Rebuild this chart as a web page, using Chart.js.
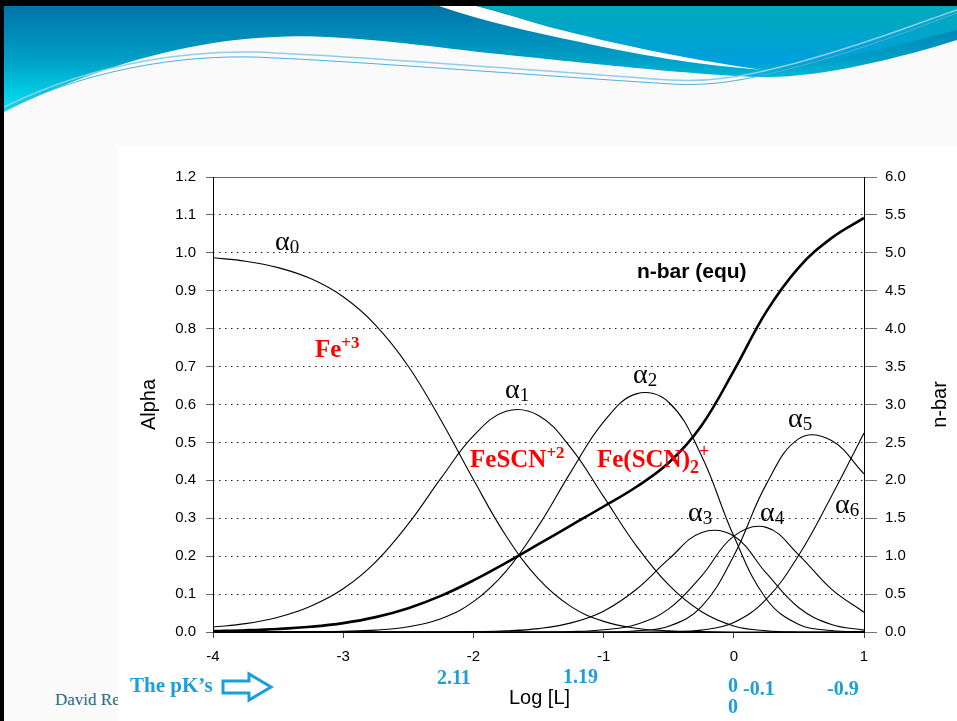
<!DOCTYPE html>
<html><head><meta charset="utf-8">
<script src="https://cdn.jsdelivr.net/npm/chart.js@4.4.0/dist/chart.umd.min.js"></script>
<style>
html,body{margin:0;padding:0;background:#fafafa;}
#wrap{position:relative;width:957px;height:721px;overflow:hidden;}
#bg,#c{position:absolute;left:0;top:0;}
</style></head><body>
<div id="wrap">
<svg id="bg" width="957" height="721" xmlns="http://www.w3.org/2000/svg">
  <defs>
    <linearGradient id="gL" x1="0" y1="6" x2="0" y2="112" gradientUnits="userSpaceOnUse">
      <stop offset="0" stop-color="#0074a9"/>
      <stop offset="0.5" stop-color="#009fc6"/>
      <stop offset="1" stop-color="#00e6f2"/>
    </linearGradient>
    <linearGradient id="gR" x1="0" y1="6" x2="0" y2="66" gradientUnits="userSpaceOnUse">
      <stop offset="0" stop-color="#00aab9"/>
      <stop offset="1" stop-color="#009fe0"/>
    </linearGradient>
  </defs>
  <rect x="0" y="0" width="957" height="721" fill="#fafafa"/>
  <path d="M4,6 H957 V40 C900,58 820,78 763,77 C700,76 560,60 488,53 C420,45 330,33 275,37 C200,40 110,60 4,112 Z" fill="url(#gL)"/>
  <path d="M476,6 H957 V30 C900,45 850,58 800,62 C770,65 750,67 732,66 C680,58 620,45 549,27 C520,18 495,10 476,6 Z" fill="url(#gR)"/>
  <path d="M439,6 H476 C500,12 525,20 549,27 C620,45 680,58 763,70 C690,64 640,55 580,42 C530,32 480,20 439,6 Z" fill="#ffffff"/>
  <path d="M4,107 C100,60 200,48 275,53 C350,56 560,72 671,80 C710,82 740,78 800,62 C880,40 920,22 957,10" stroke="#8fcde9" stroke-width="1.5" fill="none"/>
  <path d="M4,110 C100,64 200,53 275,58 C350,61 560,77 671,84 C710,86 740,82 800,66 C880,44 920,26 957,13" stroke="#4fb0dc" stroke-width="1" fill="none"/>
  <text x="55" y="705" font-family="Liberation Serif, Times New Roman, serif" font-size="17" fill="#1f6a80">David Reckhow</text>
  <rect x="118" y="147" width="839" height="574" fill="#ffffff"/>
  <rect x="0" y="0" width="957" height="6" fill="#000"/>
  <rect x="0" y="0" width="4" height="721" fill="#000"/>
</svg>
<canvas id="c" width="957" height="721"></canvas>
</div>
<script>
// ---- data ----
const xValues = [-4,-3.75,-3.5,-3.25,-3,-2.75,-2.5,-2.25,-2,-1.75,-1.5,-1.25,-1,-0.75,-0.5,-0.25,0,0.25,0.5,0.75,1];
const alpha0 = [0.987,0.978,0.961,0.932,0.884,0.809,0.701,0.559,0.402,0.254,0.140,0.067,0.028,0.010,0.003,0.001,0,0,0,0,0];
const alpha1 = [0.013,0.022,0.039,0.068,0.114,0.185,0.285,0.405,0.517,0.582,0.571,0.485,0.357,0.228,0.124,0.054,0.016,0.003,0,0,0];
const alpha2 = [0,0,0,0.001,0.002,0.005,0.014,0.035,0.080,0.160,0.280,0.423,0.554,0.628,0.606,0.466,0.253,0.087,0.020,0.004,0.001];
const alpha3 = [0,0,0,0,0,0,0,0,0.001,0.003,0.009,0.024,0.055,0.112,0.192,0.262,0.253,0.155,0.064,0.020,0.005];
const alpha4 = [0,0,0,0,0,0,0,0,0,0,0,0.001,0.006,0.020,0.061,0.147,0.253,0.276,0.203,0.113,0.052];
const alpha5 = [0,0,0,0,0,0,0,0,0,0,0,0,0,0.003,0.015,0.066,0.201,0.390,0.510,0.505,0.417];
const alpha6 = [0,0,0,0,0,0,0,0,0,0,0,0,0,0,0.001,0.005,0.025,0.087,0.203,0.358,0.525];
const nBar   = [0.013,0.023,0.040,0.069,0.117,0.196,0.314,0.476,0.680,0.912,1.158,1.407,1.655,1.912,2.231,2.718,3.444,4.225,4.809,5.194,5.460];
const pKLabels = ['2.11','1.19','0','0','-0.1','-0.9'];
const xTitle = 'Log [L]', yTitle = 'Alpha', y1Title = 'n-bar';

const SERIF = '"Liberation Serif","Times New Roman",serif';
const SANS = '"Liberation Sans",Arial,sans-serif';
const alphaSeries = [alpha0, alpha1, alpha2, alpha3, alpha4, alpha5, alpha6];
const pts = arr => xValues.map((x, i) => ({x, y: arr[i]}));

const datasets = alphaSeries.map((arr, i) => ({
  label: 'α' + i, data: pts(arr), yAxisID: 'y',
  borderColor: '#000', borderWidth: 1.1, pointRadius: 0, tension: 0.4, fill: false
}));
datasets.push({label: 'n-bar (equ)', data: pts(nBar), yAxisID: 'y1',
  borderColor: '#000', borderWidth: 2.6, pointRadius: 0, tension: 0.4, fill: false});

function parts(ctx, x, y, list) {
  let cx = x;
  for (const p of list) {
    ctx.font = p.font; ctx.fillStyle = p.color || '#000';
    ctx.fillText(p.t, cx, y + (p.dy || 0));
    cx += ctx.measureText(p.t).width + (p.gap || 0);
  }
}

const frame = {
  id: 'frame',
  beforeDatasetsDraw(chart) {
    const {ctx, chartArea: a} = chart;
    ctx.save();
    ctx.lineWidth = 1;
    ctx.strokeStyle = '#666';
    ctx.beginPath(); ctx.moveTo(a.left, a.top + 0.5); ctx.lineTo(a.right, a.top + 0.5); ctx.stroke();
    ctx.strokeStyle = '#000';
    ctx.beginPath();
    ctx.moveTo(a.left + 0.5, a.top); ctx.lineTo(a.left + 0.5, a.bottom);
    ctx.moveTo(a.right + 0.5, a.top); ctx.lineTo(a.right + 0.5, a.bottom);
    ctx.moveTo(a.left, a.bottom + 0.5); ctx.lineTo(a.right + 1, a.bottom + 0.5);
    ctx.stroke();
    ctx.restore();
  }
};

const labels = {
  id: 'labels',
  afterDraw(chart) {
    const {ctx, chartArea: a, scales: {x, y, y1}} = chart;
    const X = v => x.getPixelForValue(v), Y = v => y.getPixelForValue(v), Y1 = v => y1.getPixelForValue(v);
    ctx.save();
    ctx.textAlign = 'left'; ctx.textBaseline = 'alphabetic';
    const aF = '28px ' + SERIF, sF = '19px ' + SERIF;
    const alphaPos = [[-3.524, 1.007], [-1.757, 0.617], [-0.774, 0.657], [-0.352, 0.293], [0.201, 0.293], [0.416, 0.541], [0.777, 0.314]];
    alphaPos.forEach((p, i) => parts(ctx, X(p[0]), Y(p[1]), [{t: 'α', font: aF}, {t: String(i), font: sF, dy: 3}]));
    const R = '#ff0000', bF = 'bold 25px ' + SERIF, bS = 'bold 17px ' + SERIF;
    parts(ctx, X(-3.217), Y(0.725), [{t: 'Fe', font: bF, color: R}, {t: '+3', font: bS, color: R, dy: -9}]);
    parts(ctx, X(-2.026), Y(0.435), [{t: 'FeSCN', font: bF, color: R}, {t: '+2', font: bS, color: R, dy: -9}]);
    parts(ctx, X(-1.051), Y(0.435), [{t: 'Fe(SCN)', font: bF, color: R}, {t: '2', font: 'bold 18px ' + SERIF, color: R, dy: 6}, {t: '+', font: 'bold 18px ' + SERIF, color: R, dy: -10}]);
    ctx.font = 'bold 21px ' + SANS; ctx.fillStyle = '#000';
    ctx.fillText('n-bar (equ)', X(-0.744), Y1(4.67));
    // axis titles
    ctx.font = '20px ' + SANS; ctx.textAlign = 'center';
    ctx.fillText(xTitle, (a.left + a.right) / 2 + 1, a.bottom + 72);
    ctx.textBaseline = 'middle';
    ctx.save(); ctx.translate(149, (a.top + a.bottom) / 2); ctx.rotate(-Math.PI / 2); ctx.fillText(yTitle, 0, 0); ctx.restore();
    ctx.save(); ctx.translate(940, (a.top + a.bottom) / 2); ctx.rotate(-Math.PI / 2); ctx.fillText(y1Title, 0, 0); ctx.restore();
    // pK annotations
    const C = '#1b9fda', cF = 'bold 20px ' + SERIF;
    ctx.textAlign = 'left'; ctx.textBaseline = 'alphabetic'; ctx.fillStyle = C; ctx.font = cF;
    const pkPos = [[-2.28, 52], [-1.312, 51], [-0.044, 60], [-0.044, 81], [0.071, 63], [0.716, 63]];
    pKLabels.forEach((t, i) => ctx.fillText(t, X(pkPos[i][0]), a.bottom + pkPos[i][1]));
    ctx.font = 'bold 21px ' + SERIF;
    ctx.fillText('The pK\u2019s', 130, a.bottom + 60);
    // outline arrow
    ctx.strokeStyle = C; ctx.lineWidth = 3; ctx.lineJoin = 'miter';
    const ax = 223, ay = a.bottom + 55;
    ctx.beginPath();
    ctx.moveTo(ax, ay - 6); ctx.lineTo(ax + 26, ay - 6); ctx.lineTo(ax + 26, ay - 13);
    ctx.lineTo(ax + 48, ay); ctx.lineTo(ax + 26, ay + 13); ctx.lineTo(ax + 26, ay + 6);
    ctx.lineTo(ax, ay + 6); ctx.closePath(); ctx.stroke();
    ctx.restore();
  }
};

const tickFont = {family: SANS, size: 15};
new Chart(document.getElementById('c'), {
  type: 'line',
  data: {datasets},
  options: {
    responsive: false, animation: false, devicePixelRatio: 1,
    layout: {padding: {left: 118, right: 10, top: 177, bottom: 0}},
    plugins: {legend: {display: false}, tooltip: {enabled: false}},
    scales: {
      x: {
        type: 'linear', min: -4, max: 1,
        ticks: {stepSize: 1, color: '#000', font: {family: SANS, size: 15}, padding: 10, maxRotation: 0},
        grid: {drawOnChartArea: false, drawTicks: true, tickLength: 6, tickColor: '#444'},
        border: {display: false},
        afterFit: s => { s.height = 89; }
      },
      y: {
        position: 'left', min: 0, max: 1.2,
        ticks: {stepSize: 0.1, color: '#000', font: tickFont, padding: 10, callback: v => Number(v).toFixed(1)},
        grid: {
          color: c => (c.tick && (Math.abs(c.tick.value) < 1e-6 || Math.abs(c.tick.value - 1.2) < 1e-6)) ? 'rgba(0,0,0,0)' : '#222',
          lineWidth: 1, tickLength: 7, tickColor: '#666', tickWidth: 1
        },
        border: {display: false, dash: [1.5, 4.5]},
        afterFit: s => { s.width = 95; }
      },
      y1: {
        position: 'right', min: 0, max: 6,
        ticks: {stepSize: 0.5, color: '#000', font: tickFont, padding: 8, callback: v => Number(v).toFixed(1)},
        grid: {drawOnChartArea: false, tickLength: 13, tickColor: '#777'},
        border: {display: false},
        afterFit: s => { s.width = 83; }
      }
    }
  },
  plugins: [frame, labels]
});
</script>
</body></html>
